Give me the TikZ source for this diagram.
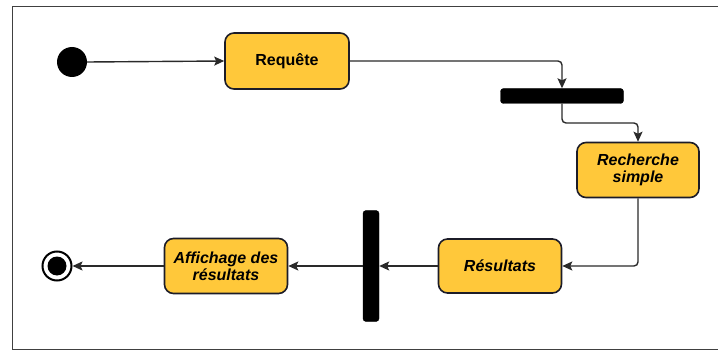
\documentclass[tikz,border=0pt]{standalone}
\usepackage{fontspec}
\setmainfont{Liberation Sans}
\usetikzlibrary{arrows.meta}
\definecolor{actfill}{HTML}{FFC83A}
\definecolor{actdraw}{HTML}{1C1C28}
\definecolor{flow}{HTML}{2A2A2A}
\begin{document}
\begin{tikzpicture}[x=1pt,y=-1pt,
  action/.style={rectangle, rounded corners=9pt, draw=actdraw, line width=1.6pt,
    fill=actfill, minimum width=123pt, minimum height=55pt, align=center,
    font=\fontsize{16}{17}\selectfont\bfseries\itshape, inner sep=2pt},
  bar/.style={rectangle, rounded corners=3pt, fill=black, draw=black},
  flowline/.style={draw=flow, line width=1.4pt, rounded corners=4pt,
    -{Stealth[length=10pt,width=9pt,inset=2pt]}},
  frameline/.style={draw=black!75, line width=1pt}]
  \useasboundingbox (0,0) rectangle (718,350);
  % frame
  \draw[frameline] (718,7) -- (12,7) -- (12,349) -- (718,349);

  % nodes
  \node[circle, fill=black, minimum size=30pt, inner sep=0pt] (start) at (72,62) {};
  \node[action, font=\fontsize{16}{17}\selectfont\bfseries, minimum width=124pt, minimum height=56pt] (req) at (287,61) {Requête};
  \node[bar, minimum width=123pt, minimum height=15pt, inner sep=0pt] (fork) at (562,96) {};
  \node[action, minimum width=122pt] (rech) at (638,170) {Recherche\\simple};
  \node[action, minimum height=54pt] (res) at (500,266) {Résultats};
  \node[bar, minimum width=16pt, minimum height=111pt, inner sep=0pt] (join) at (371,266) {};
  \node[action] (aff) at (226,266) {Affichage des\\résultats};
  \node[circle, draw=black, line width=2pt, minimum size=29pt, inner sep=0pt] (end) at (57,266) {};
  \node[circle, fill=black, minimum size=19pt, inner sep=0pt] at (end.center) {};

  % flows
  \draw[flowline] (start.east) -- (req.west);
  \draw[flowline] (req.east) -| (fork.north);
  \draw[flowline] (fork.south) |- (638,123) -- (rech.north);
  \draw[flowline] (rech.south) |- (res.east);
  \draw[flowline] (res.west) -- (join.east);
  \draw[flowline] (join.west) -- (aff.east);
  \draw[flowline] (aff.west) -- (end.east);
\end{tikzpicture}
\end{document}
